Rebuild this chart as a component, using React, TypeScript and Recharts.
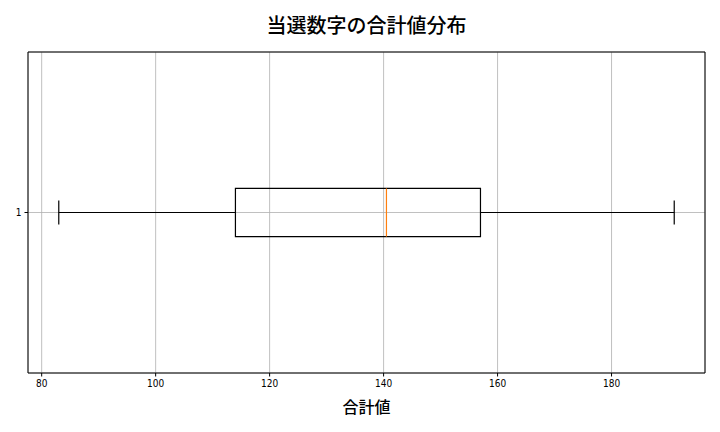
import {
  ComposedChart,
  Scatter,
  XAxis,
  YAxis,
  CartesianGrid,
  ReferenceArea,
  ReferenceLine,
} from 'recharts';

// 箱ひげ図の要約値（当選数字の合計値）
const categories = [1];
const whiskerLow = [83];
const q1 = [114];
const median = [140.5];
const q3 = [157];
const whiskerHigh = [191];

const xTicks = [80, 100, 120, 140, 160, 180];
const xDomain: [number, number] = [77.6, 196.4];
const yDomain: [number, number] = [0.5, 1.5];

const BOX_HALF = 0.075;
const CAP_HALF = 0.0375;

const tickFont = {
  fontSize: 10,
  fill: '#000',
  fontFamily: '"Liberation Sans Narrow", "DejaVu Sans Condensed", "Noto Sans CJK JP", sans-serif',
};

const points = categories.map((c, i) => ({ x: median[i], y: c }));

export default function App() {
  return (
    <div style={{ position: 'absolute', left: 0, top: 0, width: 720, height: 432, background: '#fff' }}>
      <div
        style={{
          position: 'absolute',
          left: 28,
          width: 677,
          top: 10,
          textAlign: 'center',
          fontSize: 20,
          fontWeight: 500,
          fontFamily: '"Noto Sans CJK JP", sans-serif',
          lineHeight: '30px',
        }}
      >
        当選数字の合計値分布
      </div>
      <ComposedChart
        width={720}
        height={432}
        data={points}
        margin={{ top: 52, right: 15, bottom: 0, left: 0 }}
      >
        <CartesianGrid stroke="#b0b0b0" strokeWidth={0.8} />
        <XAxis
          type="number"
          dataKey="x"
          domain={xDomain}
          ticks={xTicks}
          allowDataOverflow
          height={59}
          tick={tickFont}
          tickSize={3.5}
          tickMargin={3}
          axisLine={false}
          tickLine={{ stroke: '#000' }}
        />
        <YAxis
          type="number"
          dataKey="y"
          domain={yDomain}
          ticks={categories}
          allowDataOverflow
          width={28}
          tick={tickFont}
          tickSize={3.5}
          tickMargin={3}
          axisLine={false}
          tickLine={{ stroke: '#000' }}
        />
        {categories.map((c, i) => (
          <g key={c}>
            <ReferenceLine
              segment={[{ x: whiskerLow[i], y: c }, { x: q1[i], y: c }]}
              stroke="#000"
              strokeWidth={1.2}
            />
            <ReferenceLine
              segment={[{ x: q3[i], y: c }, { x: whiskerHigh[i], y: c }]}
              stroke="#000"
              strokeWidth={1.2}
            />
            <ReferenceLine
              segment={[{ x: whiskerLow[i], y: c - CAP_HALF }, { x: whiskerLow[i], y: c + CAP_HALF }]}
              stroke="#000"
              strokeWidth={1.2}
            />
            <ReferenceLine
              segment={[{ x: whiskerHigh[i], y: c - CAP_HALF }, { x: whiskerHigh[i], y: c + CAP_HALF }]}
              stroke="#000"
              strokeWidth={1.2}
            />
            <ReferenceArea
              x1={q1[i]}
              x2={q3[i]}
              y1={c - BOX_HALF}
              y2={c + BOX_HALF}
              fill="none"
              fillOpacity={0}
              stroke="#000"
              strokeWidth={1.2}
            />
            <ReferenceLine
              segment={[{ x: median[i], y: c - BOX_HALF }, { x: median[i], y: c + BOX_HALF }]}
              stroke="#ff7f0e"
              strokeWidth={1.2}
            />
          </g>
        ))}
        <ReferenceArea
          x1={xDomain[0]}
          x2={xDomain[1]}
          y1={yDomain[0]}
          y2={yDomain[1]}
          fill="none"
          fillOpacity={0}
          stroke="#000"
          strokeWidth={1}
        />
        <Scatter dataKey="y" fill="none" shape={() => <g />} isAnimationActive={false} />
      </ComposedChart>
      <div
        style={{
          position: 'absolute',
          left: 28,
          width: 677,
          top: 395,
          textAlign: 'center',
          fontSize: 16,
          fontWeight: 500,
          fontFamily: '"Noto Sans CJK JP", sans-serif',
          lineHeight: '22px',
        }}
      >
        合計値
      </div>
    </div>
  );
}
